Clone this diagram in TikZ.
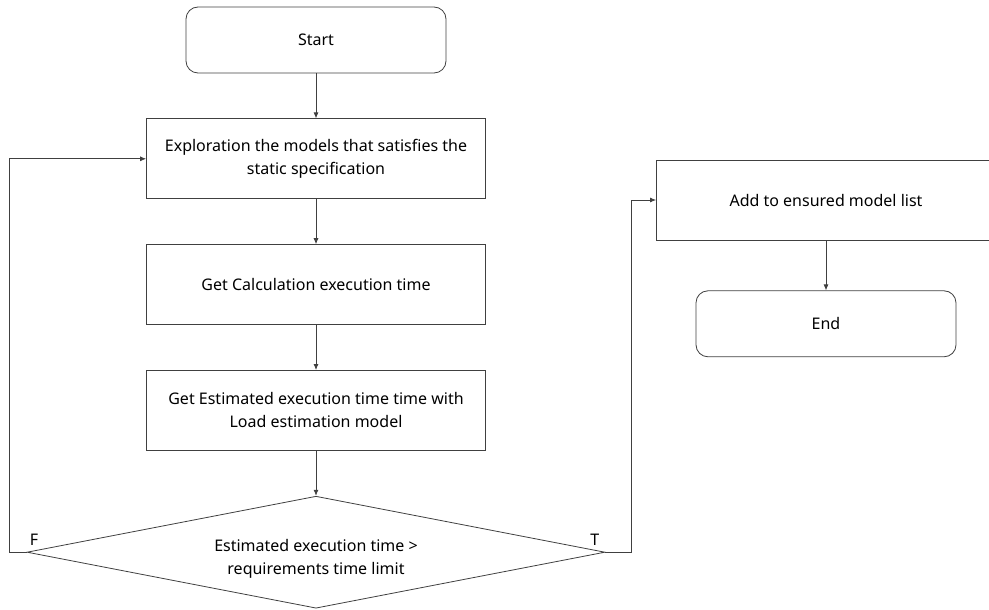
\documentclass[tikz,border=0pt]{standalone}
\usepackage{fontspec}
\setmainfont{Noto Sans}
\usetikzlibrary{shapes.geometric, arrows.meta, positioning}
\definecolor{linegray}{HTML}{404040}

\begin{document}
\begin{tikzpicture}[
    x=1pt, y=-1pt,
    node distance=45pt,
    block/.style={rectangle, draw=linegray, line width=0.8pt, minimum width=339pt, minimum height=80pt, align=center, font=\fontsize{16}{23}\selectfont},
    term/.style={block, rounded corners=12pt, minimum width=260pt, minimum height=66pt},
    decide/.style={diamond, aspect=5.16, draw=linegray, line width=0.8pt, minimum width=578pt, minimum height=112pt, inner sep=0pt, align=center, font=\fontsize{16}{23}\selectfont},
    tag/.style={font=\fontsize{16}{18}\selectfont, inner sep=0pt},
    arrow/.style={-{Latex[length=6pt,width=5pt]}, draw=linegray, line width=0.8pt}
]
    \useasboundingbox (0,0) rectangle (989,610);

    \node[term] (start) at (316,40) {Start};
    \node[block, below=of start] (explore) {Exploration the models that satisfies the\\static specification};
    \node[block, below=of explore] (calc) {Get Calculation execution time};
    \node[block, below=of calc] (estimate) {Get Estimated execution time time with\\Load estimation model};
    % strut pushes the two lines a little below the centre
    \node[decide, below=of estimate] (check) {\rule{0pt}{26pt}Estimated execution time >\\requirements time limit};

    \node[block] (ensure) at (826,200) {Add to ensured model list};
    \node[term, below=50pt of ensure] (end) {End};

    \node[tag, above right=7pt and 3pt of check.west] (flabel) {F};
    \node[tag, above left=7pt and 6pt of check.east] (tlabel) {T};

    \draw[arrow] (start) -- (explore);
    \draw[arrow] (explore) -- (calc);
    \draw[arrow] (calc) -- (estimate);
    \draw[arrow] (estimate) -- (check);
    \draw[arrow] (check.west) -- ++(-17,0) |- (explore.west);
    \draw[arrow] (check.east) -- ++(26,0) |- (ensure.west);
    \draw[arrow] (ensure) -- (end);
\end{tikzpicture}
\end{document}
